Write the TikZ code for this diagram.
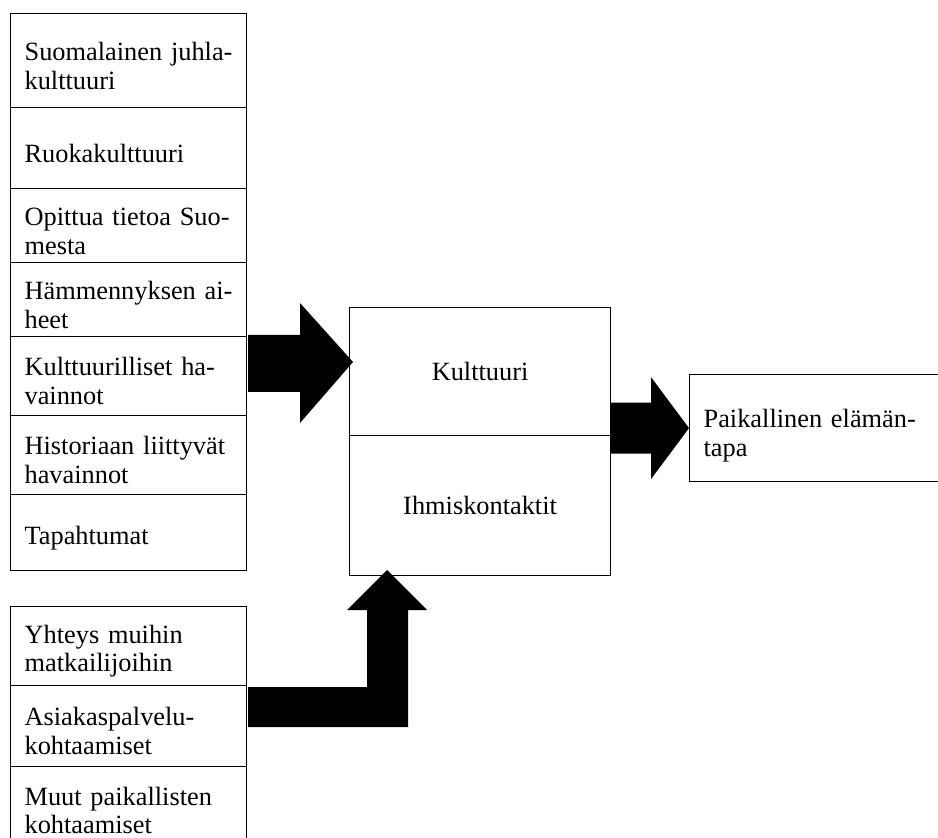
\documentclass[tikz,border=0pt]{standalone}
\usepackage{fontspec}
\setmainfont{Liberation Serif}
\usepackage{tikz}

\newcommand{\tp}{\rule{0pt}{0.57cm}}

\tikzset{
  cell/.style={draw, line width=0.7pt, rectangle, anchor=north west, text width=4.16cm,
    inner xsep=0.28cm, inner ysep=0pt, align=left, font=\fontsize{15}{16.3}\selectfont},
  midbox/.style={draw, line width=0.7pt, rectangle, anchor=north west, minimum width=5.22cm,
    inner sep=0pt, align=center, font=\fontsize{15}{16.3}\selectfont},
}

\begin{document}
\begin{tikzpicture}[x=0.02cm, y=-0.02cm]
\useasboundingbox (0,0) rectangle (938,838);
\clip (0,0) rectangle (938,838);

\node[cell, minimum height=1.88cm] (juhla) at (10,13) {\tp Suomalainen juhla-\\kulttuuri};
\node[cell, minimum height=1.62cm] (ruoka) at (10,107) {\tp Ruokakulttuuri};
\node[cell, minimum height=1.48cm] (tieto) at (10,188) {\tp Opittua tietoa Suo-\\mesta};
\node[cell, minimum height=1.48cm] (hamm) at (10,262) {\tp Hämmennyksen ai-\\heet};
\node[cell, minimum height=1.58cm] (havk) at (10,336) {\tp Kulttuurilliset ha-\\vainnot};
\node[cell, minimum height=1.58cm] (havh) at (10,415) {\tp Historiaan liittyvät\\havainnot};
\node[cell, minimum height=1.52cm] (tapaht) at (10,494) {\tp Tapahtumat};

\node[cell, minimum height=1.58cm] (yhteys) at (10,606) {\tp Yhteys muihin\\matkailijoihin};
\node[cell, minimum height=1.62cm] (asiak) at (10,685) {\tp Asiakaspalvelu-\\kohtaamiset};
\node[cell, minimum height=1.76cm] (muut) at (10,766) {Muut paikallisten\\kohtaamiset};

\node[midbox, minimum height=2.56cm] (kult) at (349,307) {Kulttuuri};
\node[midbox, minimum height=2.80cm] (ihmis) at (349,435) {Ihmiskontaktit};

\node[cell, text width=5.44cm, minimum height=2.14cm] (elama) at (689,374) {\rule{0pt}{0.66cm}Paikallinen elämän-\\tapa};

\coordinate (tipA) at (353,362);
\coordinate (tipC) at (387,570);

\fill (tipA) -- ++(-53,-59) -- ++(0,32) -- ++(-52,0) -- ++(0,57) -- ++(52,0) -- ++(0,31) -- cycle;
\fill (elama.west) -- ++(-38,-51) -- ++(0,25.5) -- ++(-41,0) -- ++(0,51) -- ++(41,0) -- ++(0,25.5) -- cycle;
\fill (tipC) -- ++(40,40) -- ++(-19,0) -- ++(0,117) -- ++(-160,0) -- ++(0,-40) -- ++(119,0) -- ++(0,-77) -- ++(-20,0) -- cycle;
\end{tikzpicture}
\end{document}
